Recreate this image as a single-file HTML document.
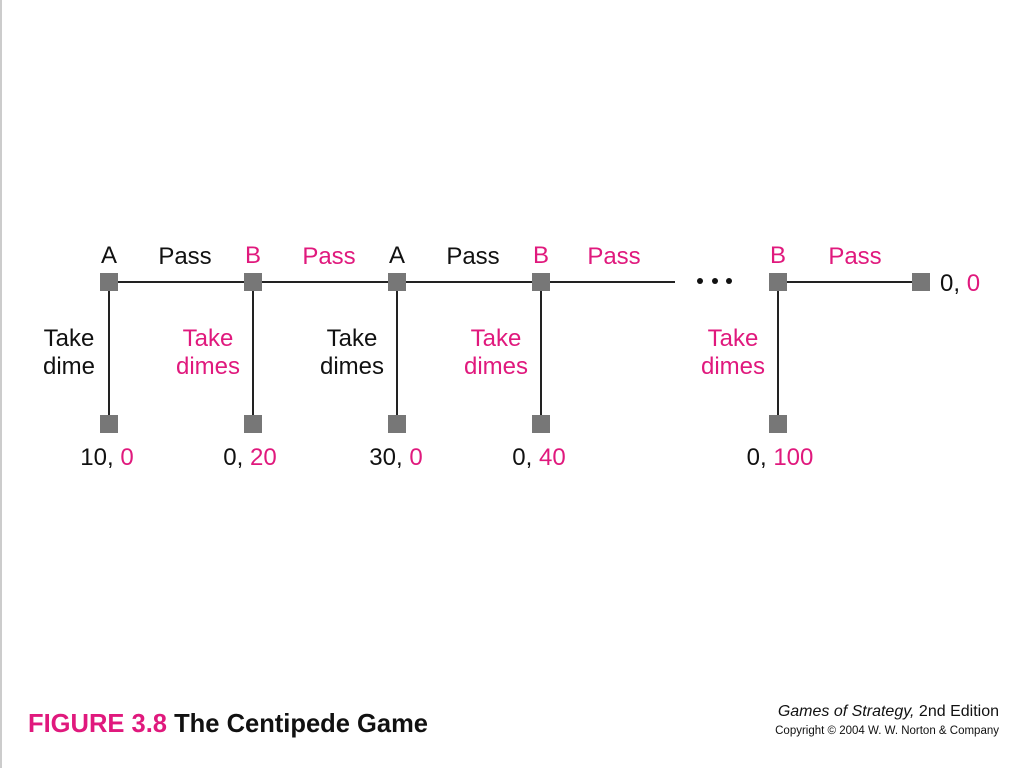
<!DOCTYPE html>
<html><head><meta charset="utf-8"><style>
html,body{margin:0;padding:0;background:#fff}
svg{display:block}
text{font-family:"Liberation Sans",sans-serif;font-size:24px}
.p{fill:#e0197d}.k{fill:#111}
</style></head><body>
<svg width="1024" height="768">
<rect x="0" y="0" width="2" height="768" fill="#ccc"/>
<g stroke="#222" stroke-width="2">
<line x1="109" y1="282" x2="675" y2="282"/>
<line x1="778" y1="282" x2="921" y2="282"/>
<line x1="109" y1="282" x2="109" y2="424"/>
<line x1="253" y1="282" x2="253" y2="424"/>
<line x1="397" y1="282" x2="397" y2="424"/>
<line x1="541" y1="282" x2="541" y2="424"/>
<line x1="778" y1="282" x2="778" y2="424"/>
</g>
<g fill="#777">
<rect x="100" y="273" width="18" height="18"/><rect x="244" y="273" width="18" height="18"/>
<rect x="388" y="273" width="18" height="18"/><rect x="532" y="273" width="18" height="18"/>
<rect x="769" y="273" width="18" height="18"/><rect x="912" y="273" width="18" height="18"/>
<rect x="100" y="415" width="18" height="18"/><rect x="244" y="415" width="18" height="18"/>
<rect x="388" y="415" width="18" height="18"/><rect x="532" y="415" width="18" height="18"/>
<rect x="769" y="415" width="18" height="18"/>
</g>
<g fill="#111">
<circle cx="700" cy="281" r="3"/><circle cx="715" cy="281" r="3"/><circle cx="729" cy="281" r="3"/>
</g>
<g text-anchor="middle">
<text x="109" y="263" class="k">A</text><text x="253" y="263" class="p">B</text>
<text x="397" y="263" class="k">A</text><text x="541" y="263" class="p">B</text>
<text x="778" y="263" class="p">B</text>
</g>
<g text-anchor="middle">
<text x="185" y="264" class="k">Pass</text><text x="329" y="264" class="p">Pass</text>
<text x="473" y="264" class="k">Pass</text><text x="614" y="264" class="p">Pass</text>
<text x="855" y="264" class="p">Pass</text>
</g>
<g text-anchor="middle">
<text x="69" y="346" class="k">Take</text><text x="69" y="374" class="k">dime</text>
<text x="208" y="346" class="p">Take</text><text x="208" y="374" class="p">dimes</text>
<text x="352" y="346" class="k">Take</text><text x="352" y="374" class="k">dimes</text>
<text x="496" y="346" class="p">Take</text><text x="496" y="374" class="p">dimes</text>
<text x="733" y="346" class="p">Take</text><text x="733" y="374" class="p">dimes</text>
</g>
<g text-anchor="middle">
<text x="107" y="465" class="k">10, <tspan class="p">0</tspan></text>
<text x="250" y="465" class="k">0, <tspan class="p">20</tspan></text>
<text x="396" y="465" class="k">30, <tspan class="p">0</tspan></text>
<text x="539" y="465" class="k">0, <tspan class="p">40</tspan></text>
<text x="780" y="465" class="k">0, <tspan class="p">100</tspan></text>
<text x="940" y="291" text-anchor="start" class="k">0, <tspan class="p">0</tspan></text>
</g>
<text x="28" y="732" textLength="400" lengthAdjust="spacingAndGlyphs" style="font-size:26px;font-weight:bold"><tspan class="p">FIGURE 3.8</tspan><tspan class="k"> The Centipede Game</tspan></text>
<text x="999" y="716" text-anchor="end" style="font-size:16px" class="k"><tspan font-style="italic">Games of Strategy,</tspan> 2nd Edition</text>
<text x="999" y="734" text-anchor="end" style="font-size:11.5px" class="k">Copyright © 2004 W. W. Norton &amp; Company</text>
</svg>
</body></html>
